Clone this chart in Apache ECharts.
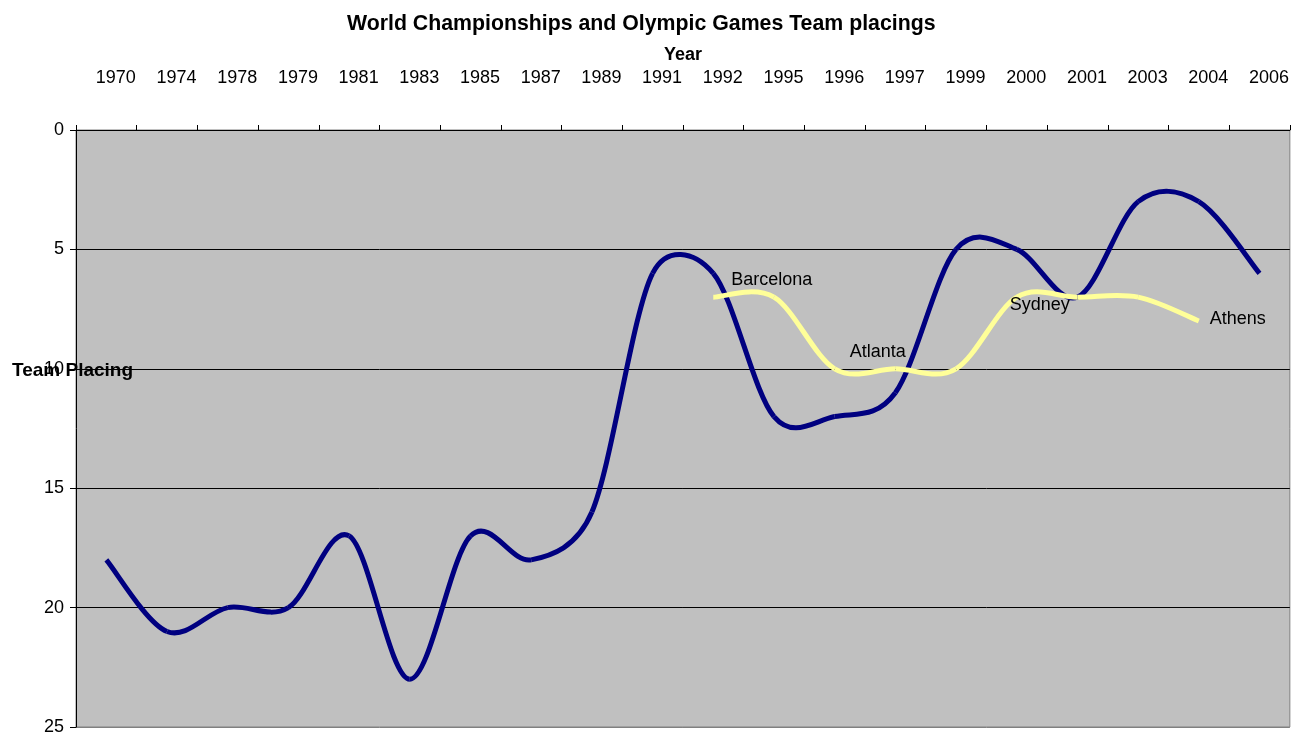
<!DOCTYPE html>
<html>
<head>
<meta charset="utf-8">
<script src="https://cdn.jsdelivr.net/npm/echarts@6/dist/echarts.min.js"></script>
<style>
html,body{margin:0;padding:0;background:#fff;}
#chart{width:1292px;height:736px;}
</style>
</head>
<body>
<div id="chart"></div>
<script>
// ---- data ----
const years = ['1970','1974','1978','1979','1981','1983','1985','1987','1989','1991','1992','1995','1996','1997','1999','2000','2001','2003','2004','2006'];
const worldPlacing = [18,21,20,20,17,23,17,18,16,6,6,12,12,11,5,5,7,3,3,6];
const olympicPlacing = [null,null,null,null,null,null,null,null,null,null,7,7,10,10,10,7,7,7,8];
const olympicNames = ['','','','','','','','','','','Barcelona','','Atlanta','','','Sydney','','','Athens'];
const yTicks = [0,5,10,15,20,25];

// ---- styling (not data) ----
const labelOffsets = {Barcelona:[18,-17], Atlanta:[15,-17], Sydney:[-7,8], Athens:[11,-2]};
const FONT = 'Liberation Sans, Arial, sans-serif';

// Excel-like smoothed segment: control arms = 1/6 of neighbour chord, capped at half the segment length
function segmentControls(p0, p1, p2, p3) {
  const dist = (a,b) => Math.hypot(b[0]-a[0], b[1]-a[1]);
  const d02 = dist(p0,p2), d12 = dist(p1,p2), d13 = dist(p1,p3);
  const f1 = (d02 === 0) ? 0 : (d02/6 < d12/2 ? 1/6 : (d12/2)/d02);
  const f2 = (d13 === 0) ? 0 : (d13/6 < d12/2 ? 1/6 : (d12/2)/d13);
  return [
    [p1[0] + f1*(p2[0]-p0[0]), p1[1] + f1*(p2[1]-p0[1])],
    [p2[0] - f2*(p3[0]-p1[0]), p2[1] - f2*(p3[1]-p1[1])]
  ];
}

function makeSeries(values, color, names, z) {
  const items = [];
  values.forEach((v,i)=>{ if (v != null) items.push([i, v]); });
  return {
    type:'custom', coordinateSystem:'cartesian2d', data:items, encode:{x:0, y:1}, z:z, clip:true,
    renderItem:function(params, api){
      const k = params.dataIndex;
      const pt = j => api.coord(items[j]);
      const n = items.length;
      const children = [];
      if (k < n-1) {
        const p0 = pt(Math.max(k-1,0)), p1 = pt(k), p2 = pt(k+1), p3 = pt(Math.min(k+2,n-1));
        const c = segmentControls(p0, p1, p2, p3);
        children.push({type:'bezierCurve',
          shape:{x1:p1[0], y1:p1[1], x2:p2[0], y2:p2[1], cpx1:c[0][0], cpy1:c[0][1], cpx2:c[1][0], cpy2:c[1][1]},
          style:{stroke:color, lineWidth:5, fill:'none'}});
      }
      const name = names ? names[items[k][0]] : '';
      if (name) {
        const p = pt(k), off = labelOffsets[name];
        children.push({type:'text', x:p[0]+off[0], y:p[1]+off[1],
          style:{text:name, font:'18px '+FONT, fill:'#000', align:'left', verticalAlign:'middle'}, z2:10});
      }
      return {type:'group', children:children};
    }
  };
}

const chart = echarts.init(document.getElementById('chart'));
chart.setOption({
  animation:false,
  backgroundColor:'#fff',
  title:{text:'World Championships and Olympic Games Team placings', left:342, top:9,
    textStyle:{fontSize:21.3, fontWeight:'bold', color:'#000', fontFamily:FONT}},
  graphic:[{type:'text', left:12, top:361, style:{text:'Team Placing', font:'bold 19px '+FONT, fill:'#000'}}],
  grid:{left:76, top:130, width:1215, height:598, show:true, backgroundColor:'#C0C0C0', borderColor:'#808080', borderWidth:1},
  xAxis:{type:'category', data:years, position:'top', boundaryGap:true,
    name:'Year', nameLocation:'middle', nameGap:57,
    nameTextStyle:{fontSize:18, fontWeight:'bold', color:'#000', fontFamily:FONT},
    axisLine:{show:true, lineStyle:{color:'#000', width:1}},
    axisTick:{show:true, inside:false, length:5, lineStyle:{color:'#000'}},
    axisLabel:{margin:43, fontSize:18, color:'#000', fontFamily:FONT, interval:0, padding:[0,0,0,19]},
    splitLine:{show:false}},
  yAxis:{type:'value', inverse:true, min:yTicks[0], max:yTicks[yTicks.length-1], interval:5,
    axisLine:{show:true, lineStyle:{color:'#000', width:1}},
    axisTick:{show:true, length:6, lineStyle:{color:'#000'}},
    axisLabel:{margin:12, fontSize:18, color:'#000', fontFamily:FONT},
    splitLine:{show:true, lineStyle:{color:['#000','#000','#000','#000','#000','#808080'], width:1}}},
  series:[
    makeSeries(worldPlacing, '#000080', null, 2),
    makeSeries(olympicPlacing, '#FFFF99', olympicNames, 3)
  ]
});
</script>
</body>
</html>
